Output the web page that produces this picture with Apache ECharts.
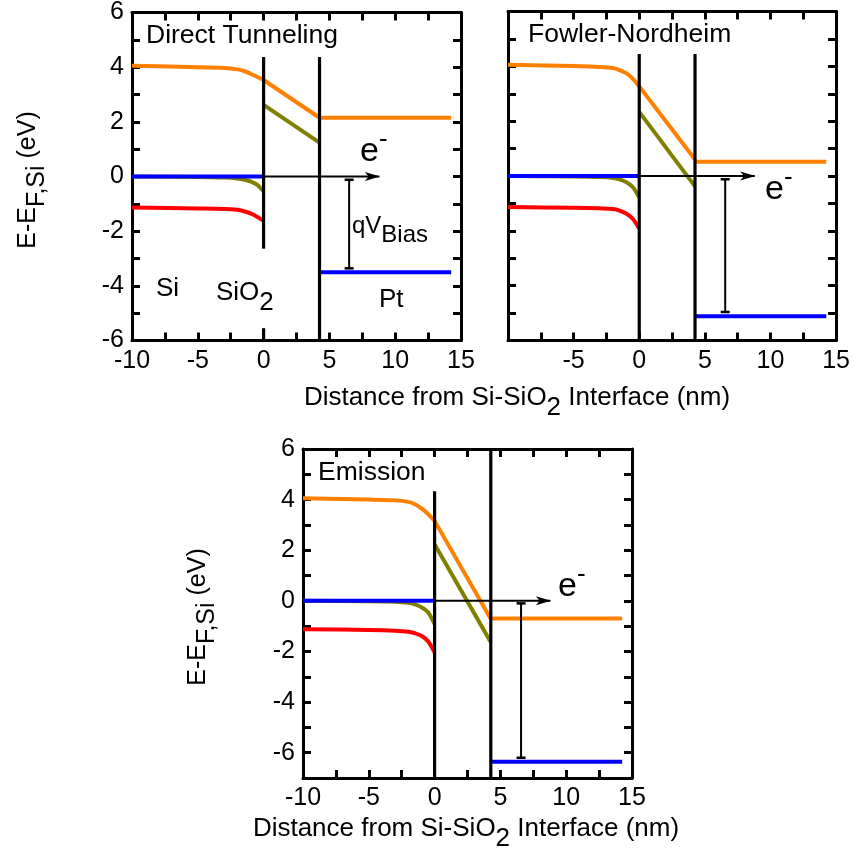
<!DOCTYPE html>
<html><head><meta charset="utf-8">
<script src="https://cdn.jsdelivr.net/npm/echarts@6/dist/echarts.min.js"></script>
<style>html,body{margin:0;padding:0;background:#fff}#c{width:853px;height:852px}</style>
</head><body><div id="c"></div>
<script>
// ---------- data ----------
const panelTitles = ['Direct Tunneling', 'Fowler-Nordheim', 'Emission'];
const xSi = [-10, -5, -3, -2, -1.5, -1, -0.5, 0];
const xOx = [0, 4.25];
const xMetal = [4.25, 14.25];
const xFermiSi = [-10, 0];
// conduction band in Si (orange)
const cbSi = [
  [4.05, 4.0, 3.97, 3.92, 3.86, 3.76, 3.65, 3.53],
  [4.06, 4.01, 3.98, 3.94, 3.86, 3.75, 3.55, 3.27],
  [4.05, 4.0, 3.97, 3.91, 3.82, 3.65, 3.43, 3.16]
];
// valence band in Si (red)
const vbSi = [
  [-1.13, -1.17, -1.19, -1.22, -1.27, -1.35, -1.47, -1.62],
  [-1.13, -1.16, -1.18, -1.2, -1.26, -1.37, -1.56, -1.92],
  [-1.12, -1.15, -1.18, -1.22, -1.28, -1.38, -1.6, -2.04]
];
// olive level in Si
const olSi = [
  [0, -0.02, -0.04, -0.07, -0.11, -0.18, -0.3, -0.55],
  [0, -0.02, -0.04, -0.07, -0.12, -0.22, -0.4, -0.78],
  [0, -0.02, -0.04, -0.08, -0.14, -0.25, -0.45, -0.92]
];
// oxide bands
const cbOx = [[3.53, 2.15], [3.27, 0.6], [3.16, -0.7]];
const olOx = [[2.62, 1.24], [2.34, -0.38], [2.24, -1.62]];
// metal levels
const cbMetal = [2.15, 0.52, -0.7];
const efMetal = [-3.5, -5.12, -6.36];
const efSi = 0;
// interface lines [x, yTop, yBottom]
const interfaceLines = [
  [[0, 4.37, -2.64], [0, -5.55, -6], [4.25, 4.37, -6]],
  [[0, 4.45, -6], [4.25, 4.45, -6]],
  [[0, 4.33, -7], [4.27, 6, -7]]
];
const arrowEnd = [8.8, 8.8, 8.8];
// bias bars [x, top, bottom]
const biasBars = [[6.5, -0.12, -3.36], [6.55, -0.12, -4.96], [6.57, -0.1, -6.2]];
const yRanges = [[-6, 6], [-6, 6], [-7, 6]];
const xRange = [-10, 15];

// ---------- layout ----------
const FONT = 'Liberation Sans, Arial, sans-serif';
const grids = [
  {left: 132, top: 11.5, width: 329, height: 329},
  {left: 508, top: 11.5, width: 329, height: 329},
  {left: 303, top: 449, width: 329, height: 329}
];
const ORANGE = '#FF8000', OLIVE = '#808000', BLUE = '#0000FF', RED = '#FF0000';

const xAxes = [], yAxes = [], series = [];
const tickStyle = () => ({show: true, inside: true, length: 8, lineStyle: {color: '#000', width: 3}});
const lineAx = () => ({show: true, onZero: false, lineStyle: {color: '#000', width: 3}});
grids.forEach((g, i) => {
  const hideMinX = (i === 1);
  xAxes.push({type: 'value', gridIndex: i, position: 'bottom', min: xRange[0], max: xRange[1], interval: 2.5,
    axisLine: lineAx(), axisTick: tickStyle(), splitLine: {show: false},
    axisLabel: {show: true, interval: 0, margin: 8, color: '#000', fontFamily: FONT, fontSize: 25,
      showMinLabel: true, showMaxLabel: true,
      formatter: v => (Math.abs(v % 5) < 1e-9 && !(hideMinX && v === xRange[0])) ? String(v) : ''}});
  xAxes.push({type: 'value', gridIndex: i, position: 'top', min: xRange[0], max: xRange[1], interval: 2.5,
    axisLine: lineAx(), axisTick: tickStyle(), splitLine: {show: false}, axisLabel: {show: false}});
  yAxes.push({type: 'value', gridIndex: i, position: 'left', min: yRanges[i][0], max: yRanges[i][1], interval: 1,
    axisLine: lineAx(), axisTick: tickStyle(), splitLine: {show: false},
    axisLabel: {show: i !== 1, interval: 0, margin: 8, color: '#000', fontFamily: FONT, fontSize: 25,
      showMinLabel: true, showMaxLabel: true,
      formatter: v => (Math.abs(v % 2) < 1e-9) ? String(v) : ''}});
  yAxes.push({type: 'value', gridIndex: i, position: 'right', min: yRanges[i][0], max: yRanges[i][1], interval: 1,
    axisLine: lineAx(), axisTick: tickStyle(), splitLine: {show: false}, axisLabel: {show: false}});

  const ax = {xAxisIndex: 2 * i, yAxisIndex: 2 * i};
  const ln = (data, color, width, extra) => Object.assign({type: 'line', data, symbol: 'none', silent: true,
    animation: false, lineStyle: {color, width}, itemStyle: {color}}, ax, extra || {});
  const zip = (xs, ys) => xs.map((x, k) => [x, ys[k]]);

  series.push(ln(zip(xSi, olSi[i]), OLIVE, 4, {smooth: 0.3}));
  series.push(ln(zip(xFermiSi, [efSi, efSi]), BLUE, 4));
  series.push(ln(zip(xSi, cbSi[i]), ORANGE, 4, {smooth: 0.3}));
  series.push(ln(zip(xSi, vbSi[i]), RED, 4, {smooth: 0.3}));
  series.push(ln(zip(xOx, cbOx[i]), ORANGE, 4));
  series.push(ln(zip(xOx, olOx[i]), OLIVE, 4));
  series.push(ln(zip(xMetal, [cbMetal[i], cbMetal[i]]), ORANGE, 4));
  series.push(ln(zip(xMetal, [efMetal[i], efMetal[i]]), BLUE, 4));
  interfaceLines[i].forEach(l => series.push(ln([[l[0], l[1]], [l[0], l[2]]], '#000', 3.2)));
  // electron arrow
  series.push(ln([[0, efSi], {value: [arrowEnd[i], efSi], symbol: 'path://M5,0 L10,16 L5,12 L0,16 Z',
    symbolSize: [9, 15], symbolRotate: -90, symbolOffset: [-7, 0], symbolKeepAspect: false}], '#000', 2,
    {showSymbol: true, showAllSymbol: true}));
  // bias bar
  const b = biasBars[i];
  series.push(ln([[b[0], b[1]], [b[0], b[2]]], '#000', 2,
    {symbol: 'rect', symbolSize: [9, 2.5], showSymbol: true}));
});

// ---------- texts ----------
const T = (x, y, text, size, extra) => Object.assign({type: 'text', x, y, silent: true, z: 100,
  style: Object.assign({text, fill: '#000', fontFamily: FONT, fontSize: size, textAlign: 'left', textVerticalAlign: 'middle'},
    extra && extra.style || {})}, extra && extra.pos || {});
const subRich = (size) => ({
  n: {fontSize: size, fontFamily: FONT, fill: '#000'},
  s: {fontSize: size, fontFamily: FONT, fill: '#000', padding: [size * 0.75, 0, 0, 0]}
});
const eRich = {n: {fontSize: 34, fontFamily: FONT}, u: {fontSize: 26, fontFamily: FONT, padding: [0, 0, 24, 0]}};
const graphic = [
  T(146, 36, panelTitles[0], 26.5),
  T(528, 35, panelTitles[1], 26.5),
  T(318, 473, panelTitles[2], 26.5),
  // e- labels
  T(360, 152, '{n|e}{u|-}', 32, {style: {rich: eRich}}),
  T(765, 190, '{n|e}{u|-}', 32, {style: {rich: eRich}}),
  T(558, 587, '{n|e}{u|-}', 32, {style: {rich: eRich}}),
  // qV_Bias
  T(352, 226, '{n|qV}{s|Bias}', 24, {style: {rich: subRich(24)}}),
  T(156, 289, 'Si', 26),
  T(216, 293, '{n|SiO}{s|2}', 26, {style: {rich: subRich(26)}}),
  T(379, 300, 'Pt', 26),
  // axis titles
  T(517, 398, '{n|Distance from Si-SiO}{s|2}{n| Interface (nm)}', 26, {style: {textAlign: 'center', rich: subRich(26)}}),
  T(466, 829, '{n|Distance from Si-SiO}{s|2}{n| Interface (nm)}', 26, {style: {textAlign: 'center', rich: subRich(26)}}),
  T(28, 180, '{n|E-E}{s|F,Si}{n| (eV)}', 25, {style: {textAlign: 'center', rich: subRich(25)}, pos: {rotation: Math.PI / 2}}),
  T(198, 617, '{n|E-E}{s|F,Si}{n| (eV)}', 25, {style: {textAlign: 'center', rich: subRich(25)}, pos: {rotation: Math.PI / 2}})
];

const chart = echarts.init(document.getElementById('c'), null, {renderer: 'canvas'});
chart.setOption({
  animation: false,
  backgroundColor: '#fff',
  grid: grids.map(g => Object.assign({containLabel: false}, g)),
  xAxis: xAxes, yAxis: yAxes, series, graphic
});
</script></body></html>
